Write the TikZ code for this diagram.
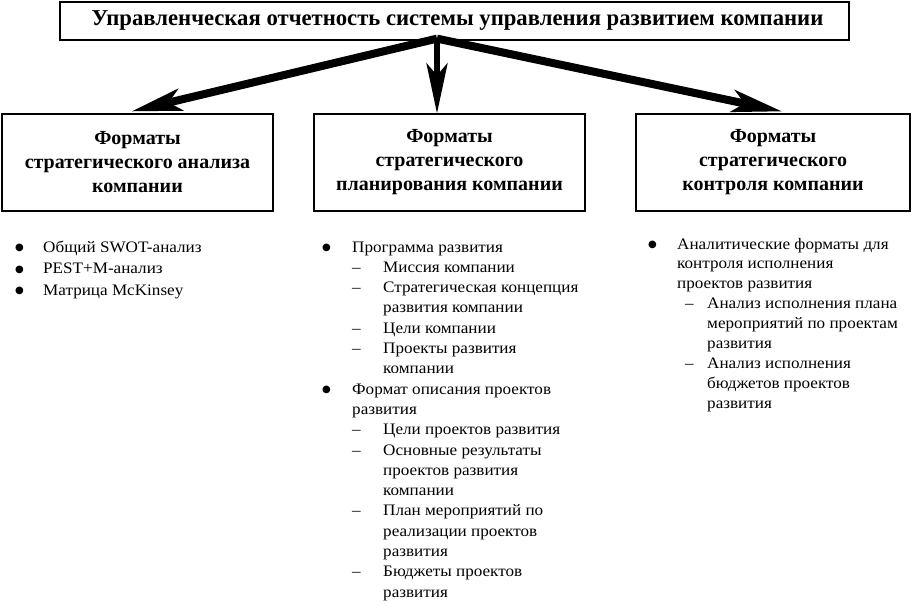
\documentclass[tikz,border=0pt]{standalone}
\usepackage{fontspec}
\setmainfont{Liberation Serif}
\newfontfamily\listfont[FakeStretch=1.07]{Liberation Serif}
\newfontfamily\symfont{DejaVu Sans}
\usetikzlibrary{arrows.meta}
\tikzset{
  fmtbox/.style={draw, line width=1.2pt, minimum height=97pt, inner sep=0pt,
    align=center, font=\fontsize{20}{24}\selectfont\bfseries},
  bigarrow/.style={line width=8pt, -{Stealth[length=50pt,width=22pt,inset=12pt]}},
  midarrow/.style={line width=6pt, -{Stealth[length=50pt,width=21pt,inset=12pt]}},
  itemlist/.style={anchor=base west, inner sep=0pt, font=\listfont\fontsize{16}{20.3}\selectfont}
}
\newcommand{\bul}{\raisebox{1.5pt}{\symfont\fontsize{10}{10}\selectfont ●}}
\newcommand{\wide}[1]{\multicolumn{2}{@{}l@{}}{#1}}

\begin{document}
\begin{tikzpicture}[x=1pt,y=-1pt]
\useasboundingbox (0,0) rectangle (912,605);
% header
\node [draw, line width=1.2pt, minimum width=789pt, minimum height=38pt, inner sep=0pt,
  font=\fontsize{22.7}{24}\selectfont\bfseries] (title) at (454.5,21)
  {\hspace{6pt}Управленческая отчетность системы управления развитием компании};
\coordinate (hub) at ([xshift=-17.5pt,yshift=2pt]title.south);
% three boxes
\node [fmtbox, minimum width=271pt] (analysis) at (137.5,162.5) {Форматы\\стратегического анализа\\компании};
\node [fmtbox, minimum width=271pt] (planning) at (449.5,162.5) {Форматы\\стратегического\\планирования компании};
\node [fmtbox, minimum width=274pt] (control) at (773,162.5) {Форматы\\стратегического\\контроля компании};
% arrows
\draw [bigarrow] (hub) -- ([xshift=-6pt,yshift=2pt]analysis.north);
\draw [midarrow] (hub) -- (hub |- planning.north);
\draw [bigarrow] (hub) -- ([xshift=9pt,yshift=2pt]control.north);
% lists
\node [itemlist] (analysislist) at (15,252) {\def\arraystretch{1.06}%
\begin{tabular}[t]{@{}p{28pt}@{}l@{}}
\bul & Общий SWOT-анализ\\
\bul & PEST+M-анализ\\
\bul & Матрица McKinsey
\end{tabular}};
\node [itemlist] (planninglist) at (322,252) {%
\begin{tabular}[t]{@{}p{30pt}@{}p{31pt}@{}l@{}}
\bul & \wide{Программа развития}\\
 & – & Миссия компании\\
 & – & Стратегическая концепция\\
 & & развития компании\\
 & – & Цели компании\\
 & – & Проекты развития\\
 & & компании\\
\bul & \wide{Формат описания проектов}\\
 & \wide{развития}\\
 & – & Цели проектов развития\\
 & – & Основные результаты\\
 & & проектов развития\\
 & & компании\\
 & – & План мероприятий по\\
 & & реализации проектов\\
 & & развития\\
 & – & Бюджеты проектов\\
 & & развития
\end{tabular}};
\node [itemlist] (controllist) at (648,249) {\def\arraystretch{0.985}%
\begin{tabular}[t]{@{}p{29pt}@{}p{30pt}@{}l@{}}
\bul & \wide{Аналитические форматы для}\\
 & \wide{контроля исполнения}\\
 & \wide{проектов развития}\\
 & \hspace{8pt}– & Анализ исполнения плана\\
 & & мероприятий по проектам\\
 & & развития\\
 & \hspace{8pt}– & Анализ исполнения\\
 & & бюджетов проектов\\
 & & развития
\end{tabular}};
\end{tikzpicture}
\end{document}
